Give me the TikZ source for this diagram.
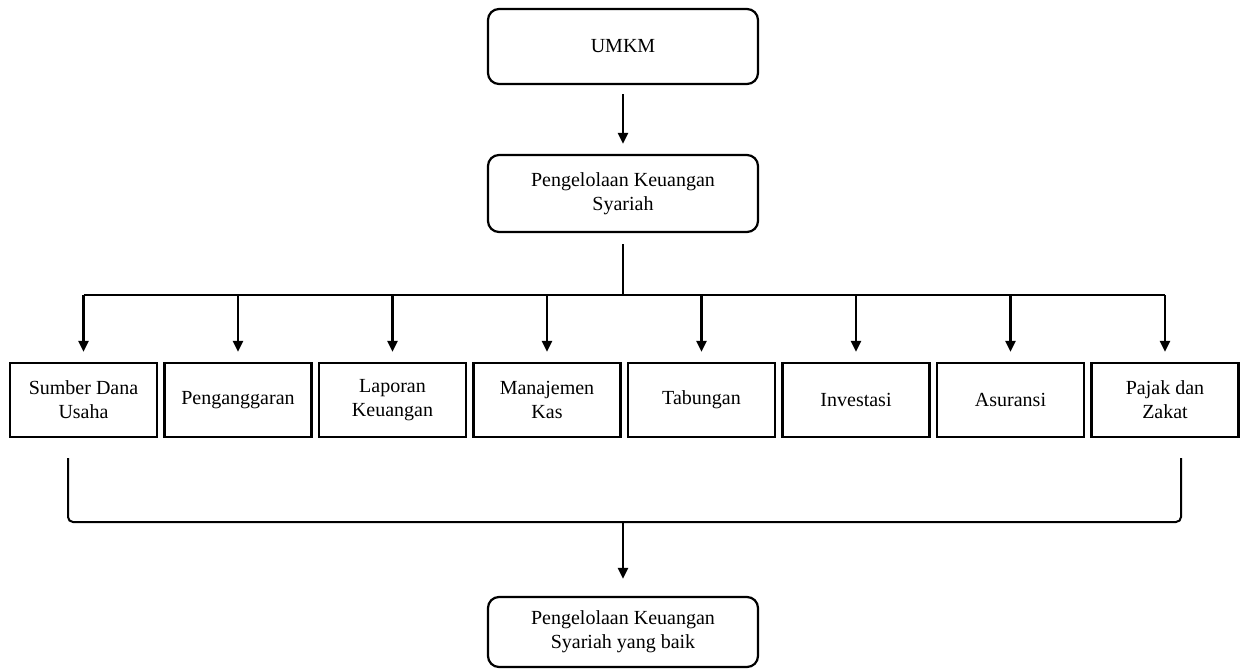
\documentclass[tikz,border=0pt]{standalone}
\usepackage{fontspec}
\setmainfont{Liberation Serif}
\usetikzlibrary{arrows.meta,calc}
\begin{document}
\begin{tikzpicture}[x=1pt,y=-1pt,
  rbox/.style={draw,line width=2.2pt,rounded corners=11pt,minimum width=270pt,inner sep=0pt,align=center,font=\fontsize{20}{24}\selectfont},
  sbox/.style={draw,line width=2.4pt,minimum width=147pt,minimum height=74pt,inner sep=0pt,align=center,font=\fontsize{20}{24}\selectfont},
  conn/.style={line width=2.4pt},
  arr/.style={conn,-{Triangle[length=11pt,width=10pt]}}]
\useasboundingbox (0,0) rectangle (1241,670);
\node[rbox,minimum height=75pt] (umkm) at (623,46.5) {UMKM};
\node[rbox,minimum height=77pt] (pks) at (623,193.5) {Pengelolaan Keuangan\\Syariah};
\node[rbox,minimum height=70pt] (final) at (623,632) {Pengelolaan Keuangan\\Syariah yang baik};
\node[sbox] (b1) at (83.5,400) {Sumber Dana\\Usaha};
\node[sbox] (b2) at (238,400) {Penganggaran};
\node[sbox] (b3) at (392.5,400) {Laporan\\Keuangan};
\node[sbox] (b4) at (547,400) {Manajemen\\Kas};
\node[sbox] (b5) at (701.5,400) {Tabungan};
\node[sbox] (b6) at (856,400) {Investasi};
\node[sbox] (b7) at (1010.5,400) {Asuransi};
\node[sbox] (b8) at (1165,400) {Pajak dan\\Zakat};
\draw[arr,shorten <=9pt,shorten >=10pt] (umkm) -- (pks);
\coordinate (bar) at (623,295);
\draw[conn,shorten <=11pt] (pks.south) -- (bar);
\draw[conn] (b1.north |- bar) -- (b8.north |- bar);
\foreach \i in {1,...,8}{
  \draw[arr,shorten >=10pt] (b\i.north |- bar) -- (b\i.north);
}
\coordinate (bl) at (68,458);
\coordinate (br) at (1181,458);
\coordinate (bj) at (623,522);
\draw[line width=2pt,rounded corners=5pt] (bl) -- (bl |- bj) -- (br |- bj) -- (br);
\draw[arr,shorten >=17pt] (bj) -- (final.north);
\end{tikzpicture}
\end{document}
